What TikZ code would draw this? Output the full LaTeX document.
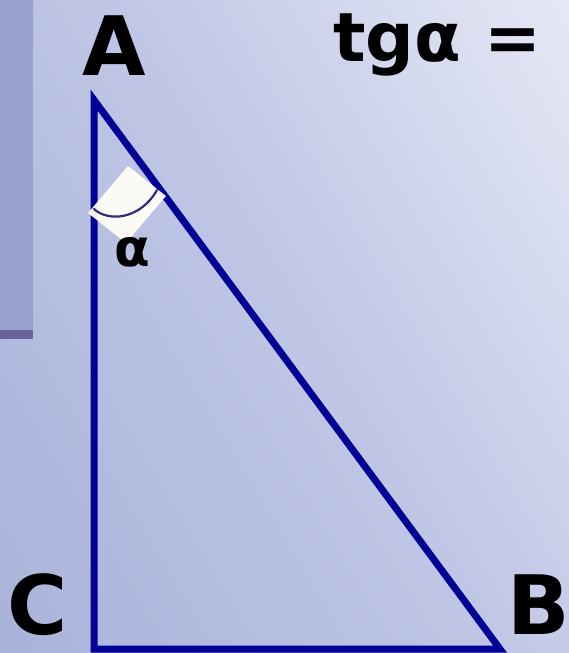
\documentclass[tikz,border=0pt]{standalone}
\usepackage{fontspec}
\setmainfont{DejaVu Sans}[BoldFont={DejaVu Sans Bold}]
\definecolor{bgdark}{RGB}{169,179,217}
\definecolor{bgmid}{RGB}{190,197,229}
\definecolor{bglight}{RGB}{229,232,245}
\definecolor{barcol}{RGB}{150,161,206}
\definecolor{stripcol}{RGB}{104,100,154}
\definecolor{sidecol}{RGB}{0,0,150}
\definecolor{arccol}{RGB}{50,44,120}
\pgfdeclareverticalshading{bgshade}{100bp}{color(0bp)=(bgdark); color(50bp)=(bgmid); color(100bp)=(bglight)}
\begin{document}
\begin{tikzpicture}[x=1pt,y=-1pt,
  lbl/.style={font=\bfseries\fontsize{82}{82}\selectfont, inner sep=0pt, anchor=base},
  side/.style={draw=sidecol, line width=7pt, line join=miter},
  arcline/.style={draw=arccol, line width=2.2pt, line cap=round}]
\useasboundingbox (0,0) rectangle (569,653);
\begin{scope}
\clip (0,0) rectangle (569,653);
\node[inner sep=0pt, outer sep=0pt, anchor=south west, rotate=-59, xscale=8.5, yscale=8.21, transform shape] (bg) at (-288.4,173.1) {\pgfuseshading{bgshade}};
\end{scope}
\fill[barcol] (0,0) rectangle (33,330);
\fill[stripcol] (0,330) rectangle (33,339);
\coordinate (A) at (94,100);
\coordinate (C) at (94,649);
\coordinate (B) at (500,649);
\draw[side] (A) -- (C) -- (B) -- cycle;
\fill[white!96!yellow, opacity=0.95] (128,166) -- (166,196) -- (126,243) -- (88,213) -- cycle;
\draw[arcline] (94,209) .. controls (108,222) and (140,220) .. (157,190);
\node[lbl] (la) at (114,75) {A};
\node[lbl] (lc) at (38,634) {C};
\node[lbl] (lb) at (539,634) {B};
\node[font=\bfseries\fontsize{52}{52}\selectfont, inner sep=0pt, anchor=base] (alpha) at (132,266) {α};
\node[font=\bfseries\fontsize{68}{68}\selectfont, inner sep=0pt, anchor=base west] (tg) at (333,61) {tgα =};
\end{tikzpicture}
\end{document}
